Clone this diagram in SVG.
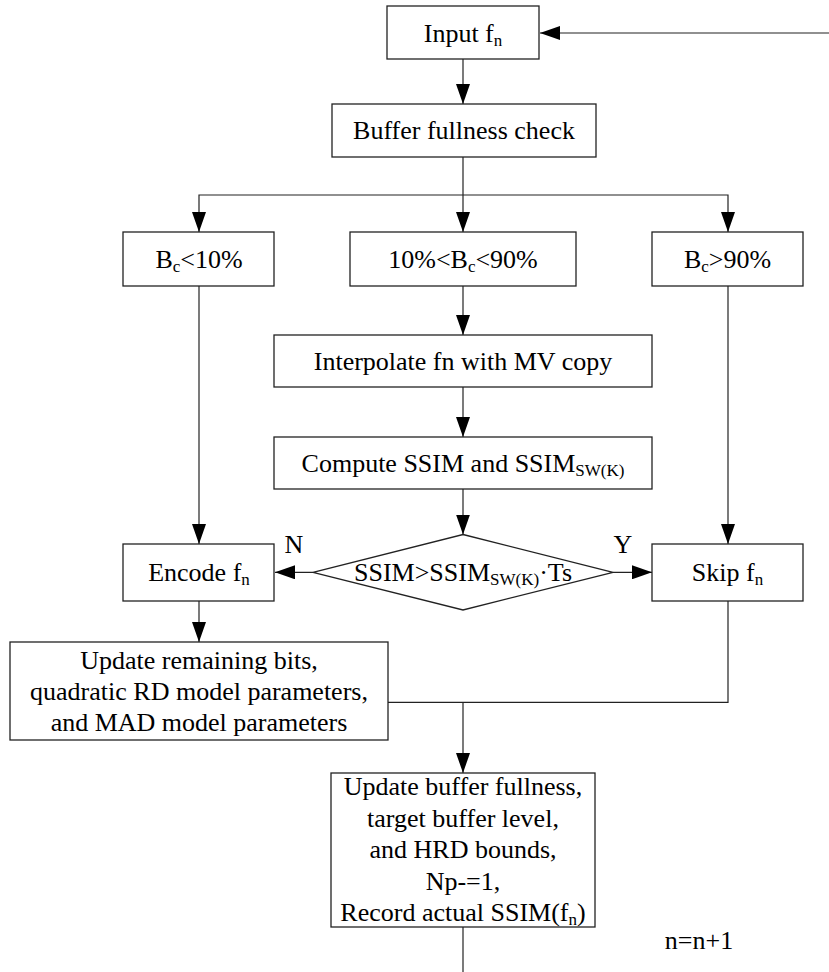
<svg xmlns="http://www.w3.org/2000/svg" width="829" height="972" viewBox="0 0 829 972">
<style>
.box{fill:#fff;stroke:#222;stroke-width:1.3}
.ln{fill:none;stroke:#222;stroke-width:1.2}
text{font-family:"Liberation Serif","Times New Roman",serif;font-size:26px;fill:#000;text-anchor:middle}
.sub{font-size:17px}
</style>
<defs>
<marker id="ah" markerUnits="userSpaceOnUse" markerWidth="20" markerHeight="14" refX="20" refY="7" orient="auto">
<path d="M0,0 L20,7 L0,14 Z" fill="#000"/>
</marker>
</defs>
<rect width="829" height="972" fill="#fff"/>
<g id="connectors">
<path class="ln" d="M829,33 H540" marker-end="url(#ah)"/>
<path class="ln" d="M463,59 V104" marker-end="url(#ah)"/>
<path class="ln" d="M463,157 V232" marker-end="url(#ah)"/>
<path class="ln" d="M463,195 H199 V232" marker-end="url(#ah)"/>
<path class="ln" d="M463,195 H728 V232" marker-end="url(#ah)"/>
<path class="ln" d="M199,286 V544" marker-end="url(#ah)"/>
<path class="ln" d="M463,286 V335" marker-end="url(#ah)"/>
<path class="ln" d="M463,387 V437" marker-end="url(#ah)"/>
<path class="ln" d="M463,489 V534.5" marker-end="url(#ah)"/>
<path class="ln" d="M313,572.3 H275" marker-end="url(#ah)"/>
<path class="ln" d="M613,572.3 H652" marker-end="url(#ah)"/>
<path class="ln" d="M728,286 V544" marker-end="url(#ah)"/>
<path class="ln" d="M199,601 V642" marker-end="url(#ah)"/>
<path class="ln" d="M728,601 V702.3 H388"/>
<path class="ln" d="M463,702.3 V773" marker-end="url(#ah)"/>
<path class="ln" d="M463,927 V972"/>
</g>
<g id="input">
<rect class="box" x="387" y="6" width="152" height="53"/>
<text x="463" y="41.5">Input f<tspan class="sub" dy="4">n</tspan></text>
</g>
<g id="buffer-check">
<rect class="box" x="332" y="104" width="264" height="53"/>
<text x="464" y="139">Buffer fullness check</text>
</g>
<g id="bc-low">
<rect class="box" x="123" y="232" width="151" height="54"/>
<text x="199" y="268">B<tspan class="sub" dy="4">c</tspan><tspan dy="-4">&lt;10%</tspan></text>
</g>
<g id="bc-mid">
<rect class="box" x="350" y="232" width="226" height="54"/>
<text x="463" y="268">10%&lt;B<tspan class="sub" dy="4">c</tspan><tspan dy="-4">&lt;90%</tspan></text>
</g>
<g id="bc-high">
<rect class="box" x="652" y="232" width="151" height="54"/>
<text x="727.5" y="268">B<tspan class="sub" dy="4">c</tspan><tspan dy="-4">&gt;90%</tspan></text>
</g>
<g id="interpolate">
<rect class="box" x="274" y="335" width="378" height="52"/>
<text x="463" y="370">Interpolate fn with MV copy</text>
</g>
<g id="compute">
<rect class="box" x="274" y="437" width="378" height="52"/>
<text x="463" y="472">Compute SSIM and SSIM<tspan class="sub" dy="4">SW(K)</tspan></text>
</g>
<g id="decision">
<polygon class="box" points="463,534.5 613,572.3 463,610 313,572.3"/>
<text x="463" y="581">SSIM&gt;SSIM<tspan class="sub" dy="4">SW(K)</tspan><tspan dy="-4">·Ts</tspan></text>
<text x="294" y="553">N</text>
<text x="623" y="553">Y</text>
</g>
<g id="encode">
<rect class="box" x="123" y="544" width="151" height="57"/>
<text x="199" y="581">Encode f<tspan class="sub" dy="4">n</tspan></text>
</g>
<g id="skip">
<rect class="box" x="652" y="544" width="151" height="57"/>
<text x="727.5" y="581">Skip f<tspan class="sub" dy="4">n</tspan></text>
</g>
<g id="update-bits">
<rect class="box" x="10" y="642" width="378" height="98"/>
<text x="199" y="669">Update remaining bits,</text>
<text x="199" y="700">quadratic RD model parameters,</text>
<text x="199" y="731">and MAD model parameters</text>
</g>
<g id="update-buffer">
<rect class="box" x="331" y="773" width="264" height="154"/>
<text x="463" y="795">Update buffer fullness,</text>
<text x="463" y="826.5">target buffer level,</text>
<text x="463" y="858">and HRD bounds,</text>
<text x="463" y="889.5">Np-=1,</text>
<text x="463" y="921">Record actual SSIM(f<tspan class="sub" dy="4">n</tspan><tspan dy="-4">)</tspan></text>
</g>
<g id="counter">
<text x="699" y="949">n=n+1</text>
</g>
</svg>
